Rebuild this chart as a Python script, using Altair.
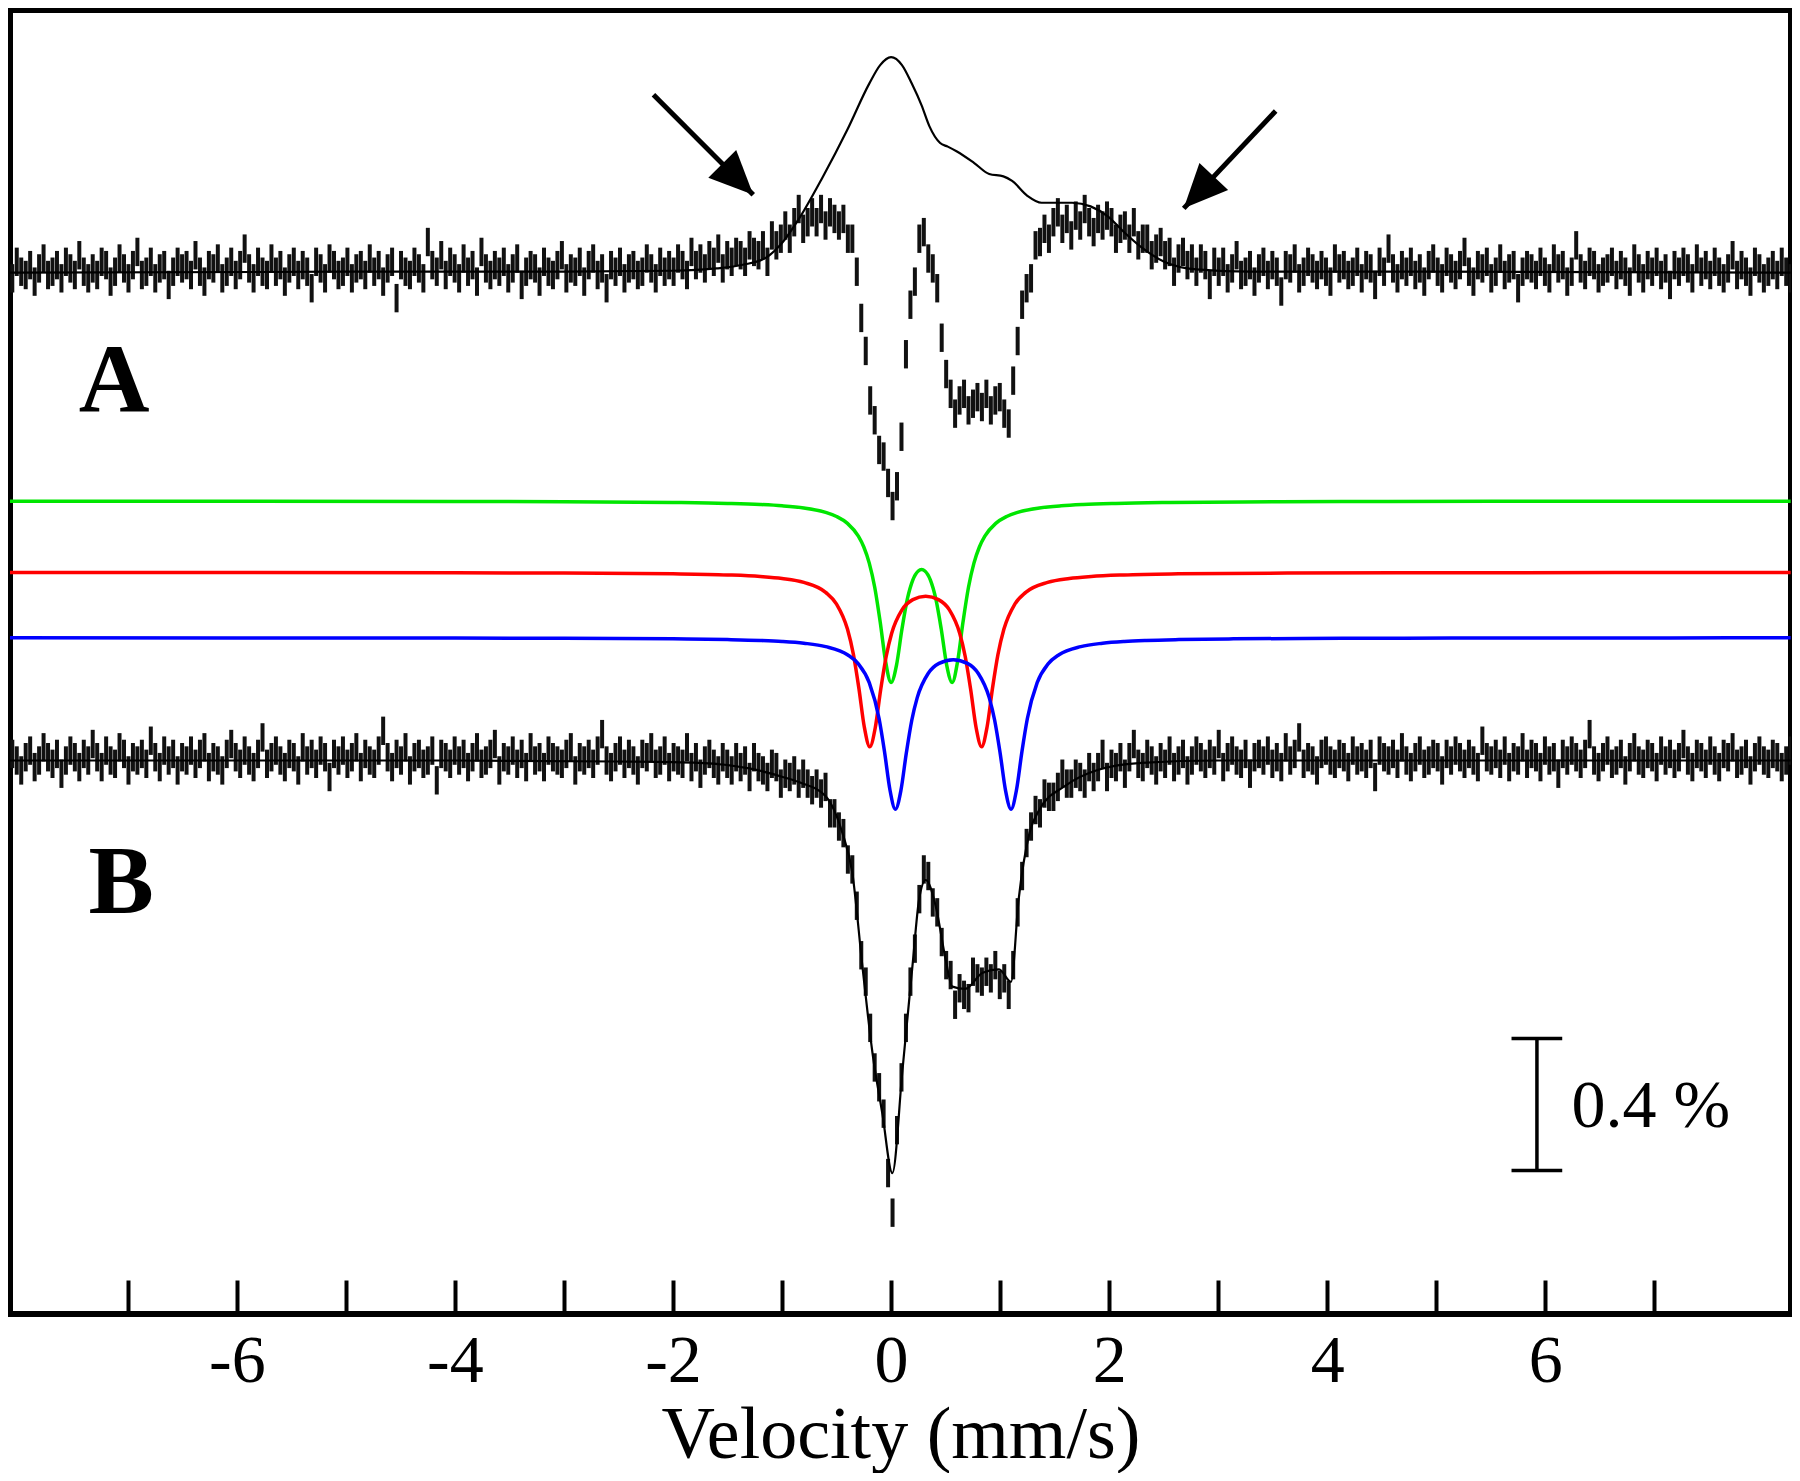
import altair as alt
import numpy as np
import pandas as pd

SERIF = "Liberation Serif"

# ---------------- data: transmission in units of 0.01 % ----------------
# measured spectra, deviation from each spectrum's own baseline (400 channels, -8.10 .. 8.25 mm/s)
V_START, V_END = -8.10, 8.25

a_dev = (
    [1, -2, 3, 0, -1, 2, -3, 1, 4, -1, 0, 2, -2, 3, 1, -1, 5, 0, -2, 1]
    + [-1, 3, 2, -3, 0, 4, 1, -2, 2, 6, -1, 0, 3, -2, 1, 2, -4, 0, 3, 1]
    + [2, -1, 5, 0, -3, 2, 1, 4, -2, 0, 3, -1, 2, 7, 1, -2, 3, 0, -1, 4]
    + [0, 2, -3, 1, 3, -1, 2, 0, -5, 3, 1, -2, 4, 2, -1, 0, 3, -2, 1, 2]
    + [-1, 4, 0, 2, -3, 1, 3, -8, 2, 0, -1, 3, 1, -2, 9, 2, 0, 5, -1, 3]
    + [1, -2, 4, 0, 2, -3, 6, 1, -1, 2, 0, 3, -2, 1, 4, -4, 0, 2, 1, -3]
    + [3, 0, -1, 2, 5, -2, 1, 0, 3, -3, 2, 4, -1, 1, -5, 2, 0]
    + [3, -2, 1, 2, -1, 0, 4, 1, -2, 3, 0, 2]
    + [0, 4, 2, -1, 6, 2, 4, 1, 5, 3, 7, 1]
    + [5, 3, 6, 5, 3, 8, 6, 5, 8, 3, 11, 8]
    + [10, 14, 10, 15, 19, 13, 15, 18, 15, 19, 14, 18]
    + [16, 14, 16, 10, 10, 0, -14, -24, -39, -45, -54, -56]
    + [-64, -71, -65, -50, -25, -10, -3, 10, 12, 4, 1, -5]
    + [-20, -31, -37, -43, -39, -37, -42, -40, -38, -41, -37, -42]
    + [-39, -38, -43, -46, -33, -21, -10, -5, -2, 8, 9, 13]
    + [10, 15, 18, 13, 16, 11, 17, 14, 19, 15, 12, 16]
    + [14, 17, 15, 10, 13, 14, 10, 15, 8, 10, 10, 5]
    + [7, 9, 5, 6, 0, 4, 6, 2, 4, 0, 4, 2]
    + [-4, 3, 0]
    + [3, -2, 1, 5, -1, 0, 2, -3]
    + [1, 3, -1, 2, 0, -6, 2, 1, 4, -2, 0, 3, 1, -1, 2, 0, -3, 4, 1, 2]
    + [-1, 0, 3, -2, 2, 1, -4, 3, 0, 7, 1, -2, 2, 0, 3, -1, 1, -3, 2, 4]
    + [0, -2, 3, 1, -1, 2, 6, 0, -3, 2, 1, 3, -2, 0, 4, -1, 1, 2, -5, 0]
    + [2, 1, -1, 3, 0, -2, 4, 1, 2, -3, 0, 8, 1, -1, 3, 2, -2, 0, 1, 3]
    + [-1, 2, 0, -3, 4, 1, -2, 2, 0, 3, -1, 1, -4, 2, 0, 3, 1, -2, 4, 0]
    + [2, -1, 3, 0, -2, 1, 5, -1, 2, 0, -3, 3, 1, -2, 0, 2, -1, 3, 0, -2]
)

b_dev = (
    [-1, 2, 0, -3, 1, 3, -2, 0, 4, 1, -1, 2, -4, 0, 3, 1, -2, 2, 0, 5]
    + [1, -2, 3, 0, -1, 4, 2, -3, 1, 0, 2, -1, 6, 1, -2, 3, 0, 2, -3, 1]
    + [0, 3, -1, 2, 4, -2, 1, 0, -3, 2, 5, 1, -1, 3, 0, -2, 2, 7, -1, 1]
    + [3, 0, -2, 2, 1, -3, 4, 0, 2, -1, 3, 1, -5, 2, 0, 3, -1, 1, 4, -2]
    + [2, 0, -1, 3, 9, 1, -2, 2, 0, 4, -3, 1, 2, -1, 0, 3, -6, 2, 1, -1]
    + [3, 0, 2, -2, 1, 4, -1, 0, 2, 5, -3, 1, 0, 3, -1, 2, -2, 4, 0, 1]
    + [-2, 3, 1, 0, -1, 2, 4, -3, 1, 0, 2, -1, 3, 8, 0, -2, 1]
    + [3, -1, 2, 0, -3, 2, 1, 4, -1, 0, 3, -2]
    + [1, 0, -1, 4, -2, 1, -4, 0, 2, -1, -3, 1]
    + [-1, -3, 1, -2, 0, -5, 1, -2, -3, -5, -1, -2]
    + [-7, -4, -5, -3, -7, -4, -7, -9, -7, -10, -8, -16]
    + [-16, -20, -22, -30, -33, -44, -59, -67, -81, -93, -99, -107]
    + [-125, -137, -112, -96, -81, -67, -57, -42, -33, -35, -43, -46]
    + [-55, -62, -65, -74, -69, -71, -72, -64, -66, -67, -64, -66]
    + [-62, -68, -66, -71, -62, -46, -35, -25, -20, -15, -16, -10]
    + [-11, -11, -8, -4, -7, -7, -4, -5, -7, -2, -5, -2]
    + [2, -5, -1, -2, 1, -4, 1, 5, -1, -2, 2, 0]
    + [-3, 1, -1, 3, -2, 0, 2, -3, 0, 3, 1, -1]
    + [2, 0, 5]
    + [-2, 1, 3, 0, -1, 2, -4, 1]
    + [2, 0, 3, -1, 1, -2, 4, 0, 2, 7, -1, 1, 0, -3, 2, 3, 0, -1, 2, 1]
    + [-2, 3, 0, 1, -1, 2, -5, 3, 1, 0, 2, -1, 4, 0, -2, 1, 3, -1, 0, 2]
    + [1, -3, 2, 0, 3, 1, -1, 2, 0, -2, 6, 1, 0, 2, -1, 3, -2, 1, 0, 4]
    + [-1, 2, 1, -2, 3, 0, 1, -4, 2, 0, 3, 1, -1, 2, 8, 0, -2, 1, 3, -1]
    + [0, 2, -3, 1, 4, 0, -1, 2, 1, -2, 3, 0, 2, -1, 1, 5, 0, -2, 2, 1]
    + [-1, 3, 0, -2, 2, 1, 4, -1, 0, 2, -3, 1, 3, 0, -1, 2, 1, -2, 0, 3]
)
ERR = 4.3  # half length of each data bar

# fitted envelopes
a_fit_v = [-8.1, -5, -3, -2, -1.6, -1.36, -1.15, -1.0, -0.84, -0.63, -0.4, -0.2, -0.1, 0.0,
           0.1, 0.19, 0.28, 0.35, 0.45, 0.52, 0.6, 0.76, 0.9, 1.03, 1.11, 1.25, 1.38, 1.66,
           1.83, 1.99, 2.13, 2.3, 2.5, 2.8, 3.3, 5, 8.25]
a_fit_dev = [-0.3, 0, 0, 0.3, 1.0, 2.1, 4.2, 8.7, 16.3, 28.5, 43.1, 57.0, 62.6, 65.0,
             62.6, 57.0, 50.4, 44.2, 39.0, 37.9, 36.5, 33.0, 29.6, 28.9, 27.5, 23.0, 20.9, 20.9,
             19.8, 16.7, 12.2, 7.3, 3.1, 0.7, 0, 0, -0.3]

b_fit_v = [-8.1, -4, -2.5, -1.76, -1.3, -1.0, -0.84, -0.6, -0.447, -0.355, -0.263, -0.17,
           -0.08, 0.012, 0.104, 0.196, 0.257, 0.318, 0.41, 0.5, 0.562, 0.68, 0.84, 0.99,
           1.1, 1.17, 1.27, 1.36, 1.6, 1.9, 2.3, 3.0, 8.25]
b_fit_dev = [0, 0, -0.3, -0.7, -2.4, -4.9, -6.6, -10.8, -21.9, -34.1, -62.3, -88.7,
             -107.0, -125.0, -94.0, -62.3, -42.1, -36.2, -44.2, -60.2, -68.5, -69.2, -64.3, -63.3,
             -67.1, -42.1, -21.9, -14.9, -7.6, -2.8, -0.7, 0, 0]

# quadrupole doublet components
green_v = [-8.1, -6, -4, -3, -2, -1.5, -1.2, -1.0, -0.8, -0.6, -0.5, -0.4, -0.3, -0.25, -0.2,
           -0.15, -0.1, -0.05, 0, 0.05, 0.1, 0.15, 0.2, 0.25, 0.28, 0.31, 0.36, 0.41, 0.46,
           0.51, 0.56, 0.61, 0.66, 0.71, 0.76, 0.81, 0.86, 0.96, 1.06, 1.16, 1.36, 1.56, 1.76,
           2.06, 2.56, 3.56, 4.56, 6.56, 8.25]
green_dev = [-0.03, -0.05, -0.11, -0.19, -0.41, -0.69, -1.02, -1.41, -2.09, -3.43, -4.66, -6.75,
             -10.64, -13.91, -18.79, -26.11, -36.59, -48.63, -54.96, -49.67, -38.77, -29.58,
             -23.87, -21.18, -20.76, -21.18, -23.87, -29.58, -38.77, -49.67, -54.96, -48.63,
             -36.59, -26.11, -18.79, -13.91, -10.64, -6.75, -4.66, -3.43, -2.09, -1.41, -1.02,
             -0.69, -0.41, -0.19, -0.11, -0.05, -0.03]
red_v = [-8.1, -6, -4, -3, -2, -1.5, -1.2, -1.0, -0.8, -0.6, -0.5, -0.4, -0.345, -0.295, -0.245,
         -0.195, -0.145, -0.095, -0.045, 0.005, 0.1, 0.2, 0.3175, 0.435, 0.535, 0.63, 0.68, 0.73,
         0.78, 0.83, 0.88, 0.93, 0.98, 1.035, 1.135, 1.235, 1.435, 1.635, 1.835, 2.135, 2.635,
         3.635, 4.635, 6.635, 8.25]
red_dev = [-0.03, -0.05, -0.11, -0.2, -0.44, -0.78, -1.24, -1.83, -3.02, -6.04, -9.6, -17.18,
           -24.91, -35.14, -46.92, -52.83, -47.07, -35.5, -25.48, -18.53, -11.37, -8.25, -7.21,
           -8.25, -11.37, -18.53, -25.48, -35.5, -47.07, -52.83, -46.92, -35.14, -24.91, -17.18,
           -9.6, -6.04, -3.02, -1.83, -1.24, -0.78, -0.44, -0.2, -0.11, -0.05, -0.03]
blue_v = [-8.1, -6, -4, -3, -2, -1.5, -1.2, -1.0, -0.8, -0.6, -0.4, -0.3, -0.2, -0.11, -0.06,
          -0.01, 0.04, 0.09, 0.14, 0.19, 0.24, 0.34, 0.44, 0.57, 0.7, 0.8, 0.9, 0.95, 1.0, 1.05,
          1.1, 1.15, 1.2, 1.25, 1.34, 1.44, 1.54, 1.74, 1.94, 2.14, 2.34, 2.64, 3.14, 4.14, 5.14,
          7.14, 8.25]
blue_dev = [-0.03, -0.05, -0.1, -0.17, -0.34, -0.57, -0.83, -1.13, -1.66, -2.68, -5.14, -7.92,
            -13.59, -24.48, -34.54, -46.14, -51.97, -46.3, -34.9, -24.99, -18.14, -10.83, -7.77,
            -6.64, -7.77, -10.83, -18.14, -24.99, -34.9, -46.3, -51.97, -46.14, -34.54, -24.48,
            -13.59, -7.92, -5.14, -2.68, -1.66, -1.13, -0.83, -0.57, -0.34, -0.17, -0.1, -0.05,
            -0.03]

# vertical stacking offsets of each trace (0.01 % units)
offset = {"A": 315.8, "B": 167.7, "green": 246.3, "red": 224.7, "blue": 204.9}

# ---------------- tables ----------------
rows = []
for name, dev in (("A", a_dev), ("B", b_dev)):
    xs_ = np.linspace(V_START, V_END, len(dev))
    for x, d in zip(xs_, dev):
        rows.append({"v": float(x), "lo": offset[name] + d - ERR,
                     "hi": offset[name] + d + ERR, "spec": name})
pts = pd.DataFrame(rows)

fit_rows = []
for name, vv, dd in (("A", a_fit_v, a_fit_dev), ("B", b_fit_v, b_fit_dev)):
    for x, d in zip(vv, dd):
        fit_rows.append({"v": x, "y": offset[name] + d, "spec": name})
fits = pd.DataFrame(fit_rows)

comp_rows = []
for name, vv, dd in (("green", green_v, green_dev), ("red", red_v, red_dev),
                     ("blue", blue_v, blue_dev)):
    for x, d in zip(vv, dd):
        comp_rows.append({"v": x, "y": offset[name] + d, "comp": name})
comps = pd.DataFrame(comp_rows)

letters = pd.DataFrame([{"v": -7.125, "y": 282.5, "t": "A"},
                        {"v": -7.06, "y": 130.4, "t": "B"}])
bar = pd.DataFrame([{"v": 5.923, "v2": 5.923, "y": 43.5, "y2": 83.5},
                    {"v": 5.69, "v2": 6.155, "y": 43.5, "y2": 43.5},
                    {"v": 5.69, "v2": 6.155, "y": 83.5, "y2": 83.5}])
bar_label = pd.DataFrame([{"v": 6.24, "y": 62.6, "t": "0.4 %"}])
arrows = pd.DataFrame([{"v": -2.179, "y": 369.4, "v2": -1.264, "y2": 339.1, "ang": 135},
                       {"v": 3.527, "y": 364.5, "v2": 2.684, "y2": 335.0, "ang": 223.3}])

# ---------------- chart ----------------
xs = alt.Scale(domain=[-8.08, 8.253], nice=False, zero=False)
ys = alt.Scale(domain=[0, 395.1], nice=False, zero=False)

x_axis = alt.Axis(
    values=list(range(-7, 8)),
    labelExpr="datum.value % 2 == 0 ? toString(datum.value) : ''",
    offset=-34, tickSize=34, tickWidth=4, tickColor="black",
    domain=False, grid=False,
    labelFont=SERIF, labelFontSize=68, labelColor="black", labelPadding=13,
    labelOverlap=False, labelFlush=False,
    title="Velocity (mm/s)", titleFont=SERIF, titleFontSize=74,
    titleFontWeight="normal", titleColor="black", titleY=177,
    titleBaseline="alphabetic",
)


def X(field):
    return alt.X(field, type="quantitative", scale=xs, axis=x_axis)


def Y(field):
    return alt.Y(field, type="quantitative", scale=ys, axis=None)


data_layer = alt.Chart(pts).mark_rule(color="#111111", strokeWidth=4.0, clip=True).encode(
    x=X("v"), y=Y("lo"), y2="hi:Q",
)

fit_layer = alt.Chart(fits).mark_line(
    color="black", strokeWidth=2.2, interpolate="monotone", clip=True
).encode(x=X("v"), y=Y("y"), detail="spec:N")

comp_layer = alt.Chart(comps).mark_line(
    strokeWidth=3.5, interpolate="monotone", clip=True
).encode(
    x=X("v"), y=Y("y"),
    color=alt.Color("comp:N", legend=None,
                    scale=alt.Scale(domain=["green", "red", "blue"],
                                    range=["#00e600", "#ff0000", "#0000ff"])),
)

letter_layer = alt.Chart(letters).mark_text(
    font=SERIF, fontSize=98, fontWeight="bold", color="black",
    align="center", baseline="middle"
).encode(x=X("v"), y=Y("y"), text="t:N")

bar_layer = alt.Chart(bar).mark_rule(color="black", strokeWidth=3.5).encode(
    x=X("v"), x2="v2:Q", y=Y("y"), y2="y2:Q",
)

bar_text = alt.Chart(bar_label).mark_text(
    font=SERIF, fontSize=68, color="black", align="left", baseline="middle"
).encode(x=X("v"), y=Y("y"), text="t:N")

shaft_layer = alt.Chart(arrows).mark_rule(color="black", strokeWidth=5).encode(
    x=X("v"), x2="v2:Q", y=Y("y"), y2="y2:Q",
)

head_layer = alt.Chart(arrows).mark_point(
    shape="M0,0L-0.72,1.6L0.72,1.6Z", filled=True, size=3000,
    color="black", opacity=1, strokeWidth=0
).encode(
    x=X("v2"), y=Y("y2"),
    angle=alt.Angle("ang:Q", scale=None),
)

chart = alt.layer(
    data_layer, fit_layer, comp_layer, letter_layer, bar_layer, bar_text,
    shaft_layer, head_layer
).properties(
    width=1781, height=1304,
    padding={"left": 2, "top": 2, "right": 1, "bottom": 159},
    autosize=alt.AutoSizeParams(type="none"),
    background="white",
).configure_view(stroke="black", strokeWidth=6)

chart.save("out.html", embed_options={"renderer": "svg", "actions": False})
